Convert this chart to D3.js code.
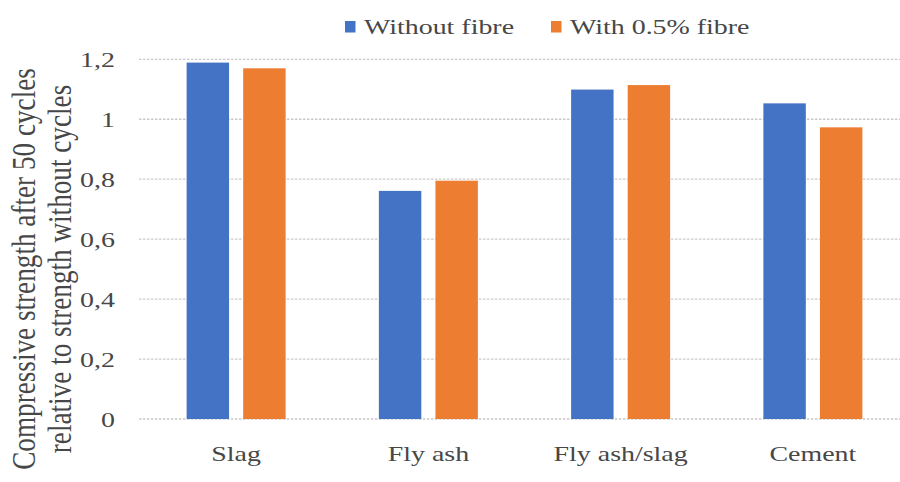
<!DOCTYPE html>
<html>
<head>
<meta charset="utf-8">
<script src="https://cdn.jsdelivr.net/npm/d3@7"></script>
<style>
  html, body { margin: 0; padding: 0; background: #fff; }
  svg { display: block; }
</style>
</head>
<body>
<svg id="chart" width="900" height="482"></svg>
<script>
const categories = ["Slag", "Fly ash", "Fly ash/slag", "Cement"];
const seriesNames = ["Without fibre", "With 0.5% fibre"];
const withoutFibre = [1.189, 0.761, 1.099, 1.053];
const withFibre = [1.170, 0.795, 1.114, 0.973];
const tickValues = [0, 0.2, 0.4, 0.6, 0.8, 1.0, 1.2];
const tickLabels = ["0", "0,2", "0,4", "0,6", "0,8", "1", "1,2"];
const colors = ["#4472C4", "#ED7D31"];
const yTitle = ["Compressive strength after 50 cycles", "relative to strength without cycles"];

(function () {
const FONT = "'Liberation Serif', 'Times New Roman', Tinos, 'DejaVu Serif', serif";
const TXT = "#474747";
const series = [withoutFibre, withFibre];
const svg = d3.select("#chart");
const W = 900;
const pLeft = 140, pRight = 909, pTop = 59.3, pBottom = 419;
const SX = 1.27;

const y = d3.scaleLinear().domain([0, 1.2]).range([pBottom, pTop]);
const x0 = d3.scaleBand().domain(categories).range([pLeft, pRight]).paddingInner(0.485).paddingOuter(0.2425);
const x1 = d3.scaleBand().domain(seriesNames).range([0, x0.bandwidth()]).paddingInner(0.25).paddingOuter(0);

const grid = svg.append("g");
grid.selectAll("line").data(tickValues).join("line")
  .attr("x1", pLeft - 1).attr("x2", W)
  .attr("y1", d => y(d)).attr("y2", d => y(d))
  .attr("stroke", "#c9c9c9").attr("stroke-width", 1.3)
  .attr("stroke-dasharray", "2.5,1.5");

const groups = svg.append("g").selectAll("g").data(categories).join("g")
  .attr("transform", d => `translate(${x0(d)},0)`);
groups.selectAll("rect").data((c, i) => seriesNames.map((s, k) => ({ s, k, v: series[k][i] })))
  .join("rect")
  .attr("x", d => x1(d.s))
  .attr("width", x1.bandwidth())
  .attr("y", d => y(d.v))
  .attr("height", d => y(0) - y(d.v))
  .attr("fill", d => colors[d.k]);

function stext(g, x, yy, str, anchor, size) {
  return g.append("text")
    .attr("transform", `translate(${x},${yy}) scale(${SX},1)`)
    .attr("text-anchor", anchor)
    .attr("font-family", FONT)
    .attr("fill", TXT)
    .attr("font-size", size)
    .text(str);
}

const yAxisG = svg.append("g");
tickValues.forEach((v, i) => stext(yAxisG, 115, y(v) + 7.5, tickLabels[i], "end", 22));

const xAxisG = svg.append("g");
categories.forEach(c => stext(xAxisG, x0(c) + x0.bandwidth() / 2, 461, c, "middle", 22));

const yt = svg.append("text")
  .attr("transform", `translate(0,269) scale(${SX},1) rotate(-90)`)
  .attr("text-anchor", "middle")
  .attr("font-family", FONT)
  .attr("fill", TXT)
  .attr("font-size", 27.2);
yt.append("tspan").attr("x", 0).attr("y", 35 / SX).text(yTitle[0]);
yt.append("tspan").attr("x", 0).attr("y", 71 / SX).text(yTitle[1]);

const legend = svg.append("g");
const legendX = [345, 551];
seriesNames.forEach((s, k) => {
  legend.append("rect").attr("x", legendX[k]).attr("y", 21).attr("width", 10.5).attr("height", 11.5).attr("fill", colors[k]);
  stext(legend, legendX[k] + 19, 33.5, s, "start", 22);
});
})();
</script>
</body>
</html>
